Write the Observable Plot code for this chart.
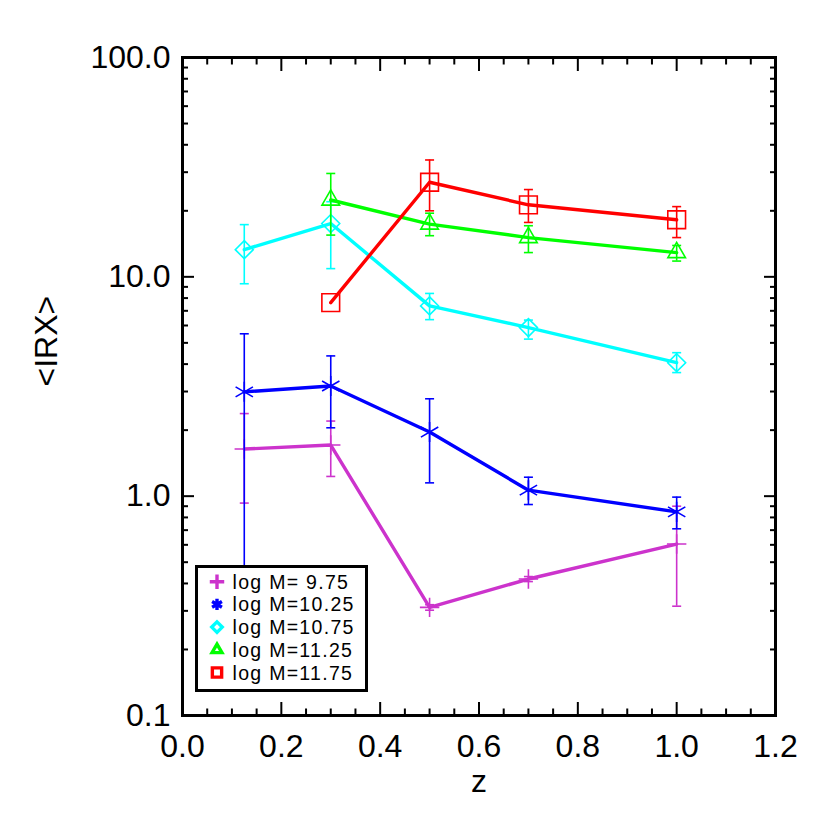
<!DOCTYPE html>
<html>
<head>
<meta charset="utf-8">
<script src="https://cdn.jsdelivr.net/npm/d3@7"></script>
<script src="https://cdn.jsdelivr.net/npm/@observablehq/plot@0.6"></script>
<style>
  body { margin: 0; background: #fff; font-family: "Liberation Sans", Arial, sans-serif; }
  #wrap { position: relative; width: 830px; height: 830px; }
  #legend { position: absolute; left: 195px; top: 565px; }
</style>
</head>
<body>
<div id="wrap"></div>
<script>
// ---- data ----
const seriesLabels = ["log M= 9.75", "log M=10.25", "log M=10.75", "log M=11.25", "log M=11.75"];
const seriesColors = ["#cc33cc", "#0000ff", "#00ffff", "#00ff00", "#ff0000"];
const seriesSymbols = ["plus", "asterisk", "diamond2", "triangle2", "square2"];

const z975 = [0.125, 0.3, 0.5, 0.7, 1.0];
const irx975 = [1.64, 1.71, 0.311, 0.419, 0.605];
const lo975 = [0.93, 1.23, 0.302, 0.408, 0.315];
const hi975 = [2.38, 2.20, 0.320, 0.430, 0.90];

const z1025 = [0.125, 0.3, 0.5, 0.7, 1.0];
const irx1025 = [2.99, 3.18, 1.96, 1.065, 0.848];
const lo1025 = [0.25, 2.05, 1.15, 0.916, 0.71];
const hi1025 = [5.5, 4.36, 2.78, 1.22, 0.99];

const z1075 = [0.125, 0.3, 0.5, 0.7, 1.0];
const irx1075 = [13.3, 17.5, 7.37, 5.87, 4.06];
const lo1075 = [9.3, 10.9, 6.38, 5.2, 3.66];
const hi1075 = [17.3, 22.0, 8.4, 6.35, 4.51];

const z1125 = [0.3, 0.5, 0.7, 1.0];
const irx1125 = [22.4, 17.4, 15.1, 12.9];
const lo1125 = [15.5, 15.4, 12.9, 11.8];
const hi1125 = [29.6, 19.5, 17.1, 13.9];

const z1175 = [0.3, 0.5, 0.7, 1.0];
const irx1175 = [7.63, 27.0, 21.3, 18.2];
const lo1175 = [null, 20.0, 17.7, 15.1];
const hi1175 = [null, 34.1, 25.0, 20.9];

const xMajorTicks = [0, 0.2, 0.4, 0.6, 0.8, 1.0, 1.2];
const xMinorTicks = [0.05, 0.1, 0.15, 0.25, 0.3, 0.35, 0.45, 0.5, 0.55, 0.65, 0.7, 0.75, 0.85, 0.9, 0.95, 1.05, 1.1, 1.15];
const yMajorTicks = [0.1, 1, 10, 100];
const yMinorTicks = [0.2, 0.3, 0.4, 0.5, 0.6, 0.7, 0.8, 0.9, 2, 3, 4, 5, 6, 7, 8, 9, 20, 30, 40, 50, 60, 70, 80, 90];
const xTitle = "z";
const yTitle = "<IRX>";

// ---- build tables ----
const seriesData = [
  [z975, irx975, lo975, hi975],
  [z1025, irx1025, lo1025, hi1025],
  [z1075, irx1075, lo1075, hi1075],
  [z1125, irx1125, lo1125, hi1125],
  [z1175, irx1175, lo1175, hi1175]
].map(([zs, vs, los, his]) => zs.map((z, j) => ({z, v: vs[j], lo: los[j], hi: his[j]})));

const markerR = {plus: 6.3, asterisk: 9.5, diamond2: 8.1, triangle2: 8.4, square2: 11.3};
const capSymbol = { draw(ctx) { ctx.moveTo(-4.5, 0); ctx.lineTo(4.5, 0); } };

const seriesMarks = seriesData.flatMap((rows, i) => {
  const c = seriesColors[i];
  const withErr = rows.filter(d => d.lo != null);
  return [
    Plot.ruleX(withErr, {x: "z", y1: "lo", y2: "hi", stroke: c, strokeWidth: 1.6}),
    Plot.dot(withErr, {x: "z", y: "lo", symbol: capSymbol, r: 5, stroke: c, fill: "none", strokeWidth: 1.6}),
    Plot.dot(withErr, {x: "z", y: "hi", symbol: capSymbol, r: 5, stroke: c, fill: "none", strokeWidth: 1.6}),
    Plot.line(rows, {x: "z", y: "v", stroke: c, strokeWidth: 3.4}),
    Plot.dot(rows, {x: "z", y: "v", symbol: seriesSymbols[i], r: markerR[seriesSymbols[i]], stroke: c, fill: "none", strokeWidth: 1.6})
  ];
});

const fmt1 = d => d.toFixed(1);

const chart = Plot.plot({
  width: 830,
  height: 830,
  marginLeft: 182,
  marginRight: 55,
  marginTop: 57,
  marginBottom: 115,
  style: {fontFamily: "'Liberation Sans', Arial, sans-serif", fontSize: "32px", color: "black", background: "white", overflow: "visible"},
  x: {domain: [0, 1.2]},
  y: {type: "log", domain: [0.1, 100]},
  marks: [
    ...seriesMarks,
    // inward ticks on all four sides
    Plot.axisX(xMajorTicks, {anchor: "bottom", tickSize: -13, strokeWidth: 2, fill: "none", label: null}),
    Plot.axisX(xMinorTicks, {anchor: "bottom", tickSize: -6.5, strokeWidth: 2, fill: "none", label: null}),
    Plot.axisX(xMajorTicks, {anchor: "top", tickSize: -13, strokeWidth: 2, fill: "none", label: null}),
    Plot.axisX(xMinorTicks, {anchor: "top", tickSize: -6.5, strokeWidth: 2, fill: "none", label: null}),
    Plot.axisY(yMajorTicks, {anchor: "left", tickSize: -12, strokeWidth: 2, fill: "none", label: null}),
    Plot.axisY(yMinorTicks, {anchor: "left", tickSize: -6, strokeWidth: 2, fill: "none", label: null}),
    Plot.axisY(yMajorTicks, {anchor: "right", tickSize: -12, strokeWidth: 2, fill: "none", label: null}),
    Plot.axisY(yMinorTicks, {anchor: "right", tickSize: -6, strokeWidth: 2, fill: "none", label: null}),
    // tick labels
    Plot.axisX(xMajorTicks, {anchor: "bottom", tickSize: 0, tickPadding: 19, tickFormat: fmt1, fontSize: 32, label: null}),
    Plot.axisY(yMajorTicks, {anchor: "left", tickSize: 0, tickPadding: 12, tickFormat: fmt1, fontSize: 32, label: null}),
    // axis titles
    Plot.text([xTitle], {frameAnchor: "bottom", dy: 76, text: d => d, fontSize: 32}),
    Plot.text([yTitle], {frameAnchor: "left", dx: -136, rotate: -90, text: d => d, fontSize: 32}),
    Plot.frame({stroke: "black", strokeWidth: 3})
  ]
});

const wrap = document.getElementById("wrap");
wrap.appendChild(chart);

// ---- legend (inside the plot area, lower left) ----
const lw = 173, lh = 127, rowH = 22.7;
const leg = d3.select(wrap).append("svg")
  .attr("id", "legend").attr("width", lw).attr("height", lh);
leg.append("rect").attr("x", 1.5).attr("y", 1.5).attr("width", lw - 3).attr("height", lh - 3)
  .attr("fill", "white").attr("stroke", "black").attr("stroke-width", 3);
const legendSymbolTypes = {plus: d3.symbolPlus, asterisk: d3.symbolAsterisk, diamond2: d3.symbolDiamond2, triangle2: d3.symbolTriangle2, square2: d3.symbolSquare2};
const legendSizes = {plus: 70, asterisk: 90, diamond2: 70, triangle2: 70, square2: 110};
seriesLabels.forEach((lab, i) => {
  const cy = 16.7 + i * rowH;
  const s = seriesSymbols[i];
  leg.append("path")
    .attr("d", d3.symbol(legendSymbolTypes[s], legendSizes[s])())
    .attr("transform", `translate(22,${cy})`)
    .attr("fill", "none").attr("stroke", seriesColors[i]).attr("stroke-width", 3.4);
  leg.append("text").attr("x", 37.5).attr("y", cy).attr("dy", "0.36em")
    .attr("font-family", "'Liberation Sans', Arial, sans-serif").attr("font-size", 19.5)
    .attr("letter-spacing", "1.3px")
    .attr("fill", "black").text(lab);
});
</script>
</body>
</html>
